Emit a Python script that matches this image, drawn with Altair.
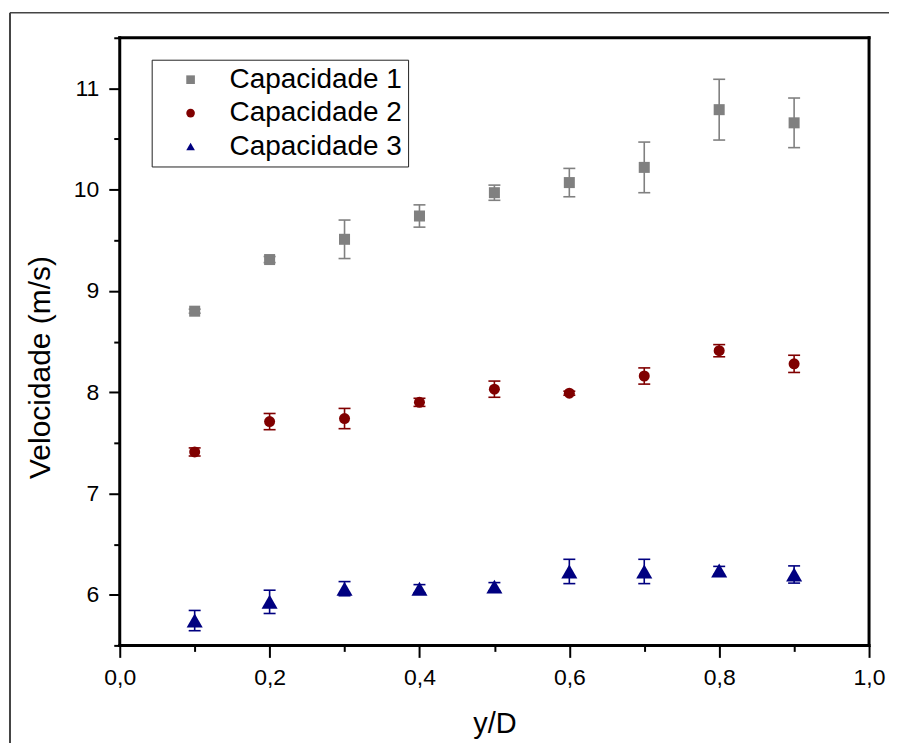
import altair as alt
import pandas as pd

series_names = ["Capacidade 1", "Capacidade 2", "Capacidade 3"]
series_colors = ["#808080", "#800000", "#000080"]
series_shapes = ["square", "circle", "triangle-up"]

x_vals = [0.1, 0.2, 0.3, 0.4, 0.5, 0.6, 0.7, 0.8, 0.9]
cap1_mean = [8.80, 9.31, 9.51, 9.74, 9.97, 10.07, 10.22, 10.79, 10.66]
cap1_err = [0.02, 0.03, 0.19, 0.11, 0.075, 0.14, 0.25, 0.30, 0.245]
cap2_mean = [7.41, 7.71, 7.74, 7.90, 8.03, 7.99, 8.16, 8.41, 8.28]
cap2_err = [0.04, 0.08, 0.10, 0.04, 0.08, 0.02, 0.08, 0.06, 0.085]
cap3_mean = [5.745, 5.93, 6.06, 6.06, 6.08, 6.23, 6.23, 6.24, 6.20]
cap3_err = [0.10, 0.115, 0.07, 0.04, 0.04, 0.12, 0.12, 0.04, 0.085]

x_ticks = [0.0, 0.1, 0.2, 0.3, 0.4, 0.5, 0.6, 0.7, 0.8, 0.9, 1.0]
y_ticks = [5.5, 6, 6.5, 7, 7.5, 8, 8.5, 9, 9.5, 10, 10.5, 11, 11.5]

rows = []
for name, col, means, errs in zip(series_names, series_colors,
                                  [cap1_mean, cap2_mean, cap3_mean],
                                  [cap1_err, cap2_err, cap3_err]):
    for x, m, e in zip(x_vals, means, errs):
        rows.append({"serie": name, "col": col, "x": x, "v": m, "lo": m - e, "hi": m + e})
df = pd.DataFrame(rows)

FONT = "Liberation Sans"
W, H = 751, 609

xscale = alt.Scale(domain=[0, 1], nice=False, zero=False)
yscale = alt.Scale(domain=[5.5, 11.5], nice=False, zero=False)
cscale = alt.Scale(domain=series_names, range=series_colors)
sscale = alt.Scale(domain=series_names, range=series_shapes)

x_axis = alt.Axis(
    values=x_ticks, title="y/D", grid=False, domain=False,
    labelExpr="round(datum.value*10) % 2 === 0 ? replace(format(datum.value, '.1f'), '.', ',') : ''",
    tickSize={"condition": {"test": "round(datum.value*10) % 2 === 0", "value": 12}, "value": 6},
    tickWidth=2, tickColor="black", labelOverlap=False, labelFlush=False, labelBound=False,
    labelFont=FONT, labelFontSize=23, labelColor="black", labelPadding=9,
    titleFont=FONT, titleFontSize=29, titleFontWeight="normal", titleColor="black",
    titleY=87, titleBaseline="alphabetic",
)
y_axis = alt.Axis(
    values=y_ticks, title="Velocidade (m/s)", grid=False, domain=False,
    labelExpr="datum.value % 1 === 0 ? format(datum.value, 'd') : ''",
    tickSize={"condition": {"test": "datum.value % 1 === 0", "value": 11}, "value": 6},
    tickWidth=2, tickColor="black", labelOverlap=False, labelFlush=False, labelBound=False,
    labelFont=FONT, labelFontSize=23, labelColor="black", labelPadding=10,
    titleFont=FONT, titleFontSize=30, titleFontWeight="normal", titleColor="black",
    titleX=-79, titleY=330, titleAngle=270, titleAlign="center", titleBaseline="middle",
)

legend = alt.Legend(
    title=None, orient="none", legendX=32, legendY=22,
    strokeColor="#222222", padding=6, labelFont=FONT, labelFontSize=28,
    labelColor="black", labelLimit=400, symbolSize=75, symbolOffset=19,
    labelOffset=25, rowPadding=5.5, symbolStrokeWidth=0, symbolOpacity=1,
)

base = alt.Chart(df)

bars = base.mark_rule(strokeWidth=1.6).encode(
    x=alt.X("x:Q", scale=xscale, axis=x_axis),
    y=alt.Y("lo:Q", scale=yscale, axis=y_axis),
    y2="hi:Q",
    color=alt.Color("col:N", scale=None),
)
caps_lo = base.mark_tick(orient="horizontal", size=12, thickness=1.6).encode(
    x=alt.X("x:Q", scale=xscale),
    y=alt.Y("lo:Q", scale=yscale),
    color=alt.Color("col:N", scale=None),
)
caps_hi = base.mark_tick(orient="horizontal", size=12, thickness=1.6).encode(
    x=alt.X("x:Q", scale=xscale),
    y=alt.Y("hi:Q", scale=yscale),
    color=alt.Color("col:N", scale=None),
)
points = base.mark_point(filled=True, opacity=1).encode(
    x=alt.X("x:Q", scale=xscale),
    y=alt.Y("v:Q", scale=yscale),
    color=alt.Color("serie:N", scale=cscale, legend=legend),
    shape=alt.Shape("serie:N", scale=sscale, legend=legend),
    size=alt.condition(alt.datum.serie == "Capacidade 3", alt.value(260), alt.value(122)),
)

frame_df = pd.DataFrame({"k": [0]})
fr = dict(color="black", strokeWidth=3, opacity=1, strokeCap="square")
f_top = alt.Chart(frame_df).mark_rule(**fr).encode(x=alt.value(0), x2=alt.value(W), y=alt.value(0))
f_bot = alt.Chart(frame_df).mark_rule(**fr).encode(x=alt.value(0), x2=alt.value(W), y=alt.value(H))
f_lft = alt.Chart(frame_df).mark_rule(**fr).encode(x=alt.value(0), y=alt.value(0), y2=alt.value(H))
f_rgt = alt.Chart(frame_df).mark_rule(**fr).encode(x=alt.value(W), y=alt.value(0), y2=alt.value(H))

frame_left = alt.Chart(frame_df).mark_rule(color="#444444", strokeWidth=2).encode(
    x=alt.value(-110), y=alt.value(-25), y2=alt.value(900)
)
frame_top = alt.Chart(frame_df).mark_rule(color="#444444", strokeWidth=1.5).encode(
    x=alt.value(-110), x2=alt.value(900), y=alt.value(-25)
)

chart = alt.layer(frame_left, frame_top, bars, caps_lo, caps_hi, points,
                  f_top, f_bot, f_lft, f_rgt).properties(
    width=W, height=H,
    autosize=alt.AutoSizeParams(type="none"),
    padding={"left": 112, "top": 29, "right": 20, "bottom": 97},
    background="white",
).configure_view(stroke=None).configure_point(opacity=1).configure_mark(opacity=1)

chart.save("out.html", embed_options={"renderer": "svg", "actions": False})
